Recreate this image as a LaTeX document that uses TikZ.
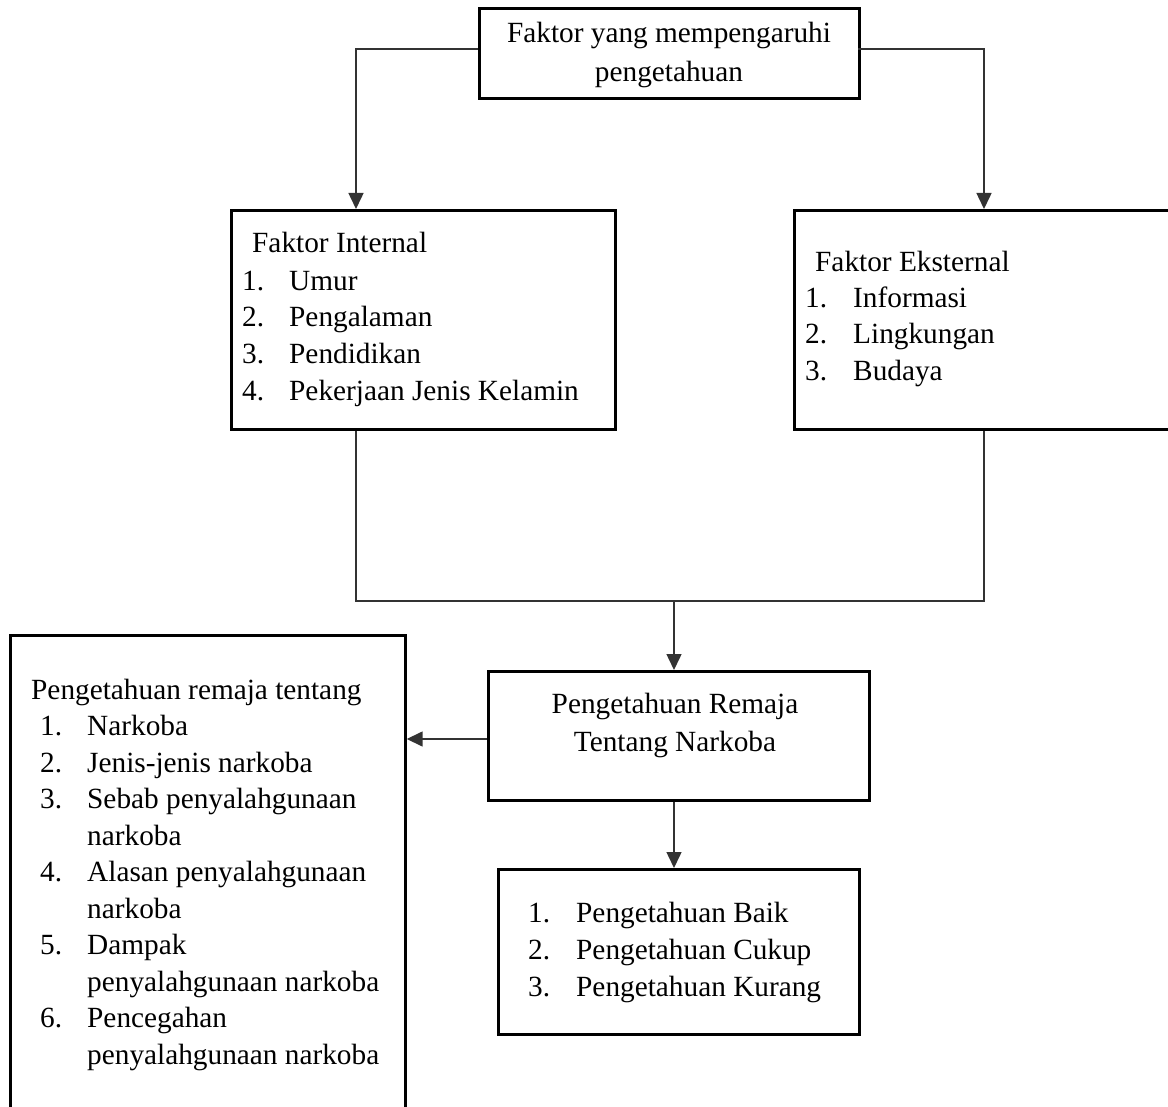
\documentclass[tikz,border=0pt]{standalone}
\usepackage{fontspec}
\setmainfont{Liberation Serif}
\usetikzlibrary{arrows.meta}
\begin{document}
\begin{tikzpicture}[x=1pt,y=-1pt,
  box/.style={draw, line width=2.7pt, inner sep=0pt, anchor=north west},
  txt/.style={anchor=base west, inner sep=0pt, font=\fontsize{29.3}{36.5}\selectfont},
  ctxt/.style={anchor=base, inner sep=0pt, font=\fontsize{29.3}{36.5}\selectfont},
  conn/.style={line width=1.5pt, draw=black!80},
  arr/.style={conn, -{Triangle[width=15pt,length=16pt]}}]
\useasboundingbox (0,0) rectangle (1168,1107);
\fill[white] (0,0) rectangle (1168,1107);

% boxes
\node[box, minimum width=380pt, minimum height=90pt] (top) at (478,7) {};
\node[box, minimum width=384pt, minimum height=219pt] (int) at (230,209) {};
\node[box, minimum width=400pt, minimum height=219pt] (ext) at (793,209) {};
\node[box, minimum width=381pt, minimum height=129pt] (mid) at (487,670) {};
\node[box, minimum width=361pt, minimum height=165pt] (res) at (497,868) {};
\node[box, minimum width=395pt, minimum height=500pt] (lft) at (9,634) {};

% top text
\node[ctxt] (t1) at (669,43) {Faktor yang mempengaruhi};
\node[ctxt] (t2) at (669,82) {pengetahuan};

% internal
\node[txt] (i0) at (252,253) {Faktor Internal};
\node[txt] (i1n) at (242,291) {1.};  \node[txt] (i1) at (289,291) {Umur};
\node[txt] (i2n) at (242,327) {2.};  \node[txt] (i2) at (289,327) {Pengalaman};
\node[txt] (i3n) at (242,363) {3.};  \node[txt] (i3) at (289,363) {Pendidikan};
\node[txt] (i4n) at (242,400) {4.};  \node[txt] (i4) at (289,400) {Pekerjaan Jenis Kelamin};

% external
\node[txt] (e0) at (815,272) {Faktor Eksternal};
\node[txt] (e1n) at (805,308) {1.};  \node[txt] (e1) at (853,308) {Informasi};
\node[txt] (e2n) at (805,344) {2.};  \node[txt] (e2) at (853,344) {Lingkungan};
\node[txt] (e3n) at (805,381) {3.};  \node[txt] (e3) at (853,381) {Budaya};

% middle
\node[ctxt] (m1) at (675,713) {Pengetahuan Remaja};
\node[ctxt] (m2) at (675,751) {Tentang Narkoba};

% result
\node[txt] (r1n) at (528,922) {1.};  \node[txt] (r1) at (576,922) {Pengetahuan Baik};
\node[txt] (r2n) at (528,959) {2.};  \node[txt] (r2) at (576,959) {Pengetahuan Cukup};
\node[txt] (r3n) at (528,996) {3.};  \node[txt] (r3) at (576,996) {Pengetahuan Kurang};

% left box
\node[txt] (l0) at (31,699) {Pengetahuan remaja tentang};
\node[txt] (l1n) at (40,735.5) {1.};  \node[txt] (l1) at (87,735.5) {Narkoba};
\node[txt] (l2n) at (40,772) {2.};    \node[txt] (l2) at (87,772) {Jenis-jenis narkoba};
\node[txt] (l3n) at (40,808.5) {3.};  \node[txt] (l3) at (87,808.5) {Sebab penyalahgunaan};
\node[txt] (l3b) at (87,845) {narkoba};
\node[txt] (l4n) at (40,881.5) {4.};  \node[txt] (l4) at (87,881.5) {Alasan penyalahgunaan};
\node[txt] (l4b) at (87,918) {narkoba};
\node[txt] (l5n) at (40,954.5) {5.};  \node[txt] (l5) at (87,954.5) {Dampak};
\node[txt] (l5b) at (87,991) {penyalahgunaan narkoba};
\node[txt] (l6n) at (40,1027.5) {6.}; \node[txt] (l6) at (87,1027.5) {Pencegahan};
\node[txt] (l6b) at (87,1064) {penyalahgunaan narkoba};

% connectors
\coordinate (cL) at (356,601);
\coordinate (cR) at (984,601);
\coordinate (cM) at (674,601);
\coordinate (tL) at (478,49);
\coordinate (tR) at (858,49);
\coordinate (cA) at (487,739);
\draw[arr] (tL) -| (int.north -| cL);
\draw[arr] (tR) -| (ext.north -| cR);
\draw[conn] (int.south -| cL) -- (cL) -- (cR) -- (ext.south -| cR);
\draw[arr] (cM) -- (mid.north -| cM);
\draw[arr] (cA) -- (lft.east |- cA);
\draw[arr] (mid.south -| cM) -- (res.north -| cM);
\end{tikzpicture}
\end{document}
